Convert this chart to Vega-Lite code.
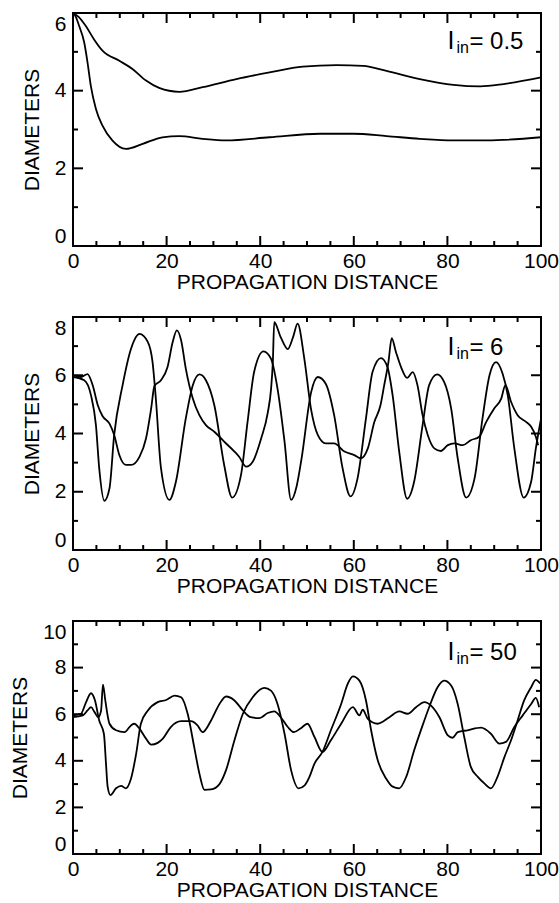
{
  "$schema": "https://vega.github.io/schema/vega-lite/v6.json",
  "background": "white",
  "padding": {"left": 8, "top": 8, "right": 0, "bottom": 0},
  "config": {
    "font": "Liberation Sans",
    "view": {"stroke": "black", "strokeWidth": 2},
    "axis": {"labelFont": "Liberation Sans", "labelFontSize": 21, "labelColor": "black", "titleFont": "Liberation Sans", "titleFontSize": 21, "titleFontWeight": "normal", "titleColor": "black", "domain": false, "grid": false, "ticks": false, "tickSize": 0, "labelOverlap": false}
  },
  "datasets": {
    "xt": [{"t":0,"m":true},{"t":5,"m":false},{"t":10,"m":false},{"t":15,"m":false},{"t":20,"m":true},{"t":25,"m":false},{"t":30,"m":false},{"t":35,"m":false},{"t":40,"m":true},{"t":45,"m":false},{"t":50,"m":false},{"t":55,"m":false},{"t":60,"m":true},{"t":65,"m":false},{"t":70,"m":false},{"t":75,"m":false},{"t":80,"m":true},{"t":85,"m":false},{"t":90,"m":false},{"t":95,"m":false},{"t":100,"m":true}],
    "y6": [{"t":0,"m":true},{"t":1,"m":false},{"t":2,"m":true},{"t":3,"m":false},{"t":4,"m":true},{"t":5,"m":false},{"t":6,"m":true}],
    "y8": [{"t":0,"m":true},{"t":1,"m":false},{"t":2,"m":true},{"t":3,"m":false},{"t":4,"m":true},{"t":5,"m":false},{"t":6,"m":true},{"t":7,"m":false},{"t":8,"m":true}],
    "y10": [{"t":0,"m":true},{"t":1,"m":false},{"t":2,"m":true},{"t":3,"m":false},{"t":4,"m":true},{"t":5,"m":false},{"t":6,"m":true},{"t":7,"m":false},{"t":8,"m":true},{"t":9,"m":false},{"t":10,"m":true}],
    "p1": [
      {"x":0,"d":6.0,"s":"u"},{"x":1.2,"d":5.9,"s":"u"},{"x":2.7,"d":5.67,"s":"u"},{"x":4.5,"d":5.32,"s":"u"},{"x":6.3,"d":5.03,"s":"u"},{"x":9.9,"d":4.77,"s":"u"},{"x":12.7,"d":4.56,"s":"u"},{"x":15.6,"d":4.26,"s":"u"},{"x":18.4,"d":4.07,"s":"u"},{"x":22.7,"d":3.97,"s":"u"},{"x":27.7,"d":4.09,"s":"u"},{"x":34.9,"d":4.3,"s":"u"},{"x":42,"d":4.47,"s":"u"},{"x":49.1,"d":4.62,"s":"u"},{"x":56.3,"d":4.66,"s":"u"},{"x":62,"d":4.64,"s":"u"},{"x":67,"d":4.51,"s":"u"},{"x":74.1,"d":4.3,"s":"u"},{"x":81.3,"d":4.15,"s":"u"},{"x":87,"d":4.11,"s":"u"},{"x":92,"d":4.17,"s":"u"},{"x":100,"d":4.34,"s":"u"},
      {"x":0,"d":6.0,"s":"l"},{"x":0.6,"d":5.9,"s":"l"},{"x":1.3,"d":5.67,"s":"l"},{"x":2.4,"d":5.24,"s":"l"},{"x":3.1,"d":4.73,"s":"l"},{"x":3.8,"d":4.13,"s":"l"},{"x":4.9,"d":3.53,"s":"l"},{"x":6.3,"d":3.1,"s":"l"},{"x":8.4,"d":2.72,"s":"l"},{"x":11.3,"d":2.5,"s":"l"},{"x":14.9,"d":2.63,"s":"l"},{"x":19.1,"d":2.8,"s":"l"},{"x":22.7,"d":2.83,"s":"l"},{"x":27.7,"d":2.76,"s":"l"},{"x":32.7,"d":2.72,"s":"l"},{"x":42,"d":2.8,"s":"l"},{"x":52.7,"d":2.89,"s":"l"},{"x":59.9,"d":2.89,"s":"l"},{"x":67,"d":2.83,"s":"l"},{"x":74.1,"d":2.76,"s":"l"},{"x":81.3,"d":2.72,"s":"l"},{"x":88.4,"d":2.72,"s":"l"},{"x":100,"d":2.8,"s":"l"}
    ],
    "p2": [
      {"x":0,"d":5.94,"s":"a"},{"x":2.4,"d":5.83,"s":"a"},{"x":3.85,"d":5.31,"s":"a"},{"x":4.9,"d":4.29,"s":"a"},{"x":5.6,"d":2.81,"s":"a"},{"x":6.7,"d":1.69,"s":"a"},{"x":7.8,"d":2.12,"s":"a"},{"x":8.8,"d":3.95,"s":"a"},{"x":10.6,"d":5.66,"s":"a"},{"x":12.4,"d":6.91,"s":"a"},{"x":14.2,"d":7.42,"s":"a"},{"x":16,"d":7.14,"s":"a"},{"x":17,"d":6.45,"s":"a"},{"x":17.7,"d":5.2,"s":"a"},{"x":18.8,"d":2.81,"s":"a"},{"x":20.6,"d":1.72,"s":"a"},{"x":22,"d":2.35,"s":"a"},{"x":24.1,"d":4.52,"s":"a"},{"x":25.6,"d":5.66,"s":"a"},{"x":27,"d":6.03,"s":"a"},{"x":28.4,"d":5.83,"s":"a"},{"x":30.2,"d":4.97,"s":"a"},{"x":32.3,"d":2.92,"s":"a"},{"x":34,"d":1.8,"s":"a"},{"x":35.9,"d":2.58,"s":"a"},{"x":37.3,"d":4.4,"s":"a"},{"x":38.7,"d":6.11,"s":"a"},{"x":40.7,"d":6.82,"s":"a"},{"x":42.3,"d":6.57,"s":"a"},{"x":43.7,"d":5.54,"s":"a"},{"x":45.2,"d":3.72,"s":"a"},{"x":46.6,"d":1.72,"s":"a"},{"x":47.8,"d":2.2,"s":"a"},{"x":48.8,"d":3.1,"s":"a"},{"x":50.9,"d":5.43,"s":"a"},{"x":52.3,"d":5.94,"s":"a"},{"x":54,"d":5.71,"s":"a"},{"x":55.8,"d":4.63,"s":"a"},{"x":57.6,"d":2.81,"s":"a"},{"x":59.3,"d":1.84,"s":"a"},{"x":60.8,"d":2.46,"s":"a"},{"x":62.6,"d":4.52,"s":"a"},{"x":64,"d":6.11,"s":"a"},{"x":65.8,"d":6.59,"s":"a"},{"x":67.2,"d":6.28,"s":"a"},{"x":68.3,"d":5.31,"s":"a"},{"x":69.7,"d":3.38,"s":"a"},{"x":71.4,"d":1.76,"s":"a"},{"x":72.9,"d":2.35,"s":"a"},{"x":74.7,"d":4.29,"s":"a"},{"x":76.1,"d":5.66,"s":"a"},{"x":77.8,"d":6.03,"s":"a"},{"x":79.3,"d":5.77,"s":"a"},{"x":80.8,"d":4.86,"s":"a"},{"x":82.2,"d":3.15,"s":"a"},{"x":84,"d":1.8,"s":"a"},{"x":85.8,"d":2.46,"s":"a"},{"x":87.5,"d":4.52,"s":"a"},{"x":89,"d":6.0,"s":"a"},{"x":90.4,"d":6.45,"s":"a"},{"x":91.8,"d":6.05,"s":"a"},{"x":92.9,"d":5.31,"s":"a"},{"x":94.3,"d":3.49,"s":"a"},{"x":96.3,"d":1.8,"s":"a"},{"x":97.9,"d":2.35,"s":"a"},{"x":98.9,"d":3.49,"s":"a"},{"x":100,"d":4.5,"s":"a"},
      {"x":0,"d":6.0,"s":"b"},{"x":1.7,"d":5.94,"s":"b"},{"x":3.1,"d":6.04,"s":"b"},{"x":4.2,"d":5.66,"s":"b"},{"x":5.3,"d":4.97,"s":"b"},{"x":6.3,"d":4.6,"s":"b"},{"x":7.8,"d":4.34,"s":"b"},{"x":8.8,"d":3.95,"s":"b"},{"x":9.9,"d":3.26,"s":"b"},{"x":11.3,"d":2.92,"s":"b"},{"x":12.4,"d":2.92,"s":"b"},{"x":14.2,"d":3.2,"s":"b"},{"x":15.6,"d":3.83,"s":"b"},{"x":16.7,"d":4.86,"s":"b"},{"x":17.4,"d":5.63,"s":"b"},{"x":18.8,"d":5.83,"s":"b"},{"x":20.2,"d":6.28,"s":"b"},{"x":21.3,"d":7.14,"s":"b"},{"x":22.2,"d":7.54,"s":"b"},{"x":23.1,"d":7.2,"s":"b"},{"x":24.1,"d":6.23,"s":"b"},{"x":25.6,"d":5.2,"s":"b"},{"x":27,"d":4.63,"s":"b"},{"x":28.4,"d":4.29,"s":"b"},{"x":30.2,"d":4.06,"s":"b"},{"x":32.3,"d":3.72,"s":"b"},{"x":34.5,"d":3.38,"s":"b"},{"x":35.5,"d":3.2,"s":"b"},{"x":37,"d":2.86,"s":"b"},{"x":38.4,"d":3.03,"s":"b"},{"x":40.2,"d":3.83,"s":"b"},{"x":41.6,"d":4.7,"s":"b"},{"x":42.3,"d":5.5,"s":"b"},{"x":42.7,"d":6.45,"s":"b"},{"x":43,"d":7.82,"s":"b"},{"x":44.4,"d":7.3,"s":"b"},{"x":45.9,"d":6.9,"s":"b"},{"x":47,"d":7.3,"s":"b"},{"x":48,"d":7.77,"s":"b"},{"x":49.4,"d":6.6,"s":"b"},{"x":50.9,"d":4.8,"s":"b"},{"x":52.3,"d":3.95,"s":"b"},{"x":54,"d":3.66,"s":"b"},{"x":55.8,"d":3.66,"s":"b"},{"x":58,"d":3.38,"s":"b"},{"x":60.1,"d":3.26,"s":"b"},{"x":61.5,"d":3.15,"s":"b"},{"x":63,"d":3.49,"s":"b"},{"x":64.4,"d":4.4,"s":"b"},{"x":65.7,"d":4.97,"s":"b"},{"x":66.5,"d":5.66,"s":"b"},{"x":67.4,"d":6.45,"s":"b"},{"x":68.1,"d":7.27,"s":"b"},{"x":69,"d":6.8,"s":"b"},{"x":70.1,"d":6.28,"s":"b"},{"x":71.4,"d":5.91,"s":"b"},{"x":72.6,"d":6.11,"s":"b"},{"x":73.6,"d":5.66,"s":"b"},{"x":74.7,"d":4.63,"s":"b"},{"x":75.8,"d":3.95,"s":"b"},{"x":77.2,"d":3.49,"s":"b"},{"x":78.6,"d":3.4,"s":"b"},{"x":80.1,"d":3.6,"s":"b"},{"x":81.5,"d":3.66,"s":"b"},{"x":83.3,"d":3.6,"s":"b"},{"x":85,"d":3.77,"s":"b"},{"x":86.8,"d":3.89,"s":"b"},{"x":88.3,"d":4.4,"s":"b"},{"x":90,"d":4.86,"s":"b"},{"x":91.5,"d":5.2,"s":"b"},{"x":92.4,"d":5.66,"s":"b"},{"x":93.6,"d":5.09,"s":"b"},{"x":95,"d":4.63,"s":"b"},{"x":96.8,"d":4.4,"s":"b"},{"x":97.9,"d":4.23,"s":"b"},{"x":98.9,"d":3.89,"s":"b"},{"x":99.4,"d":3.6,"s":"b"}
    ],
    "p3": [
      {"x":0,"d":5.95,"s":"p"},{"x":1.7,"d":6.02,"s":"p"},{"x":2.8,"d":6.52,"s":"p"},{"x":3.85,"d":6.9,"s":"p"},{"x":4.7,"d":6.59,"s":"p"},{"x":5.6,"d":5.73,"s":"p"},{"x":6.6,"d":5.16,"s":"p"},{"x":7.05,"d":3.88,"s":"p"},{"x":7.4,"d":2.89,"s":"p"},{"x":8,"d":2.53,"s":"p"},{"x":9.2,"d":2.82,"s":"p"},{"x":10.3,"d":2.92,"s":"p"},{"x":11.3,"d":2.82,"s":"p"},{"x":12.4,"d":3.24,"s":"p"},{"x":13.5,"d":4.31,"s":"p"},{"x":14.5,"d":5.59,"s":"p"},{"x":16,"d":6.16,"s":"p"},{"x":18.1,"d":6.52,"s":"p"},{"x":19.9,"d":6.61,"s":"p"},{"x":21.7,"d":6.8,"s":"p"},{"x":23.1,"d":6.73,"s":"p"},{"x":24.5,"d":6.02,"s":"p"},{"x":25.9,"d":4.59,"s":"p"},{"x":27,"d":3.46,"s":"p"},{"x":28.1,"d":2.75,"s":"p"},{"x":29.5,"d":2.77,"s":"p"},{"x":31.3,"d":3.0,"s":"p"},{"x":32.7,"d":3.6,"s":"p"},{"x":34.5,"d":4.88,"s":"p"},{"x":36.3,"d":6.02,"s":"p"},{"x":38.4,"d":6.73,"s":"p"},{"x":40.9,"d":7.13,"s":"p"},{"x":42.3,"d":7.01,"s":"p"},{"x":43.7,"d":6.44,"s":"p"},{"x":45.2,"d":5.16,"s":"p"},{"x":46.6,"d":3.6,"s":"p"},{"x":48.2,"d":2.82,"s":"p"},{"x":49.5,"d":2.95,"s":"p"},{"x":50.5,"d":3.3,"s":"p"},{"x":51.6,"d":3.88,"s":"p"},{"x":53.3,"d":4.38,"s":"p"},{"x":55.1,"d":5.31,"s":"p"},{"x":57.3,"d":6.44,"s":"p"},{"x":58.7,"d":7.3,"s":"p"},{"x":59.8,"d":7.62,"s":"p"},{"x":61.2,"d":7.44,"s":"p"},{"x":62.6,"d":6.59,"s":"p"},{"x":63.7,"d":5.31,"s":"p"},{"x":65.1,"d":4.03,"s":"p"},{"x":66.9,"d":3.24,"s":"p"},{"x":68.3,"d":2.89,"s":"p"},{"x":69.7,"d":2.82,"s":"p"},{"x":71.2,"d":3.31,"s":"p"},{"x":72.9,"d":4.45,"s":"p"},{"x":74.7,"d":5.52,"s":"p"},{"x":76.1,"d":6.3,"s":"p"},{"x":77.9,"d":7.16,"s":"p"},{"x":79.3,"d":7.44,"s":"p"},{"x":80.8,"d":7.23,"s":"p"},{"x":82.2,"d":6.44,"s":"p"},{"x":83.6,"d":5.02,"s":"p"},{"x":85,"d":3.74,"s":"p"},{"x":86.5,"d":3.31,"s":"p"},{"x":87.9,"d":3.03,"s":"p"},{"x":89.3,"d":2.82,"s":"p"},{"x":90.7,"d":3.31,"s":"p"},{"x":92.2,"d":4.17,"s":"p"},{"x":93.6,"d":4.88,"s":"p"},{"x":95,"d":5.73,"s":"p"},{"x":96.4,"d":6.59,"s":"p"},{"x":97.9,"d":7.16,"s":"p"},{"x":98.9,"d":7.47,"s":"p"},{"x":99.6,"d":7.37,"s":"p"},{"x":100,"d":7.3,"s":"p"},
      {"x":0,"d":5.87,"s":"q"},{"x":2.1,"d":5.95,"s":"q"},{"x":3.1,"d":6.16,"s":"q"},{"x":3.85,"d":6.3,"s":"q"},{"x":4.6,"d":6.09,"s":"q"},{"x":5.4,"d":5.87,"s":"q"},{"x":6,"d":6.16,"s":"q"},{"x":6.4,"d":7.27,"s":"q"},{"x":6.9,"d":6.59,"s":"q"},{"x":7.8,"d":5.59,"s":"q"},{"x":9.2,"d":5.31,"s":"q"},{"x":11,"d":5.23,"s":"q"},{"x":12.4,"d":5.52,"s":"q"},{"x":13.1,"d":5.59,"s":"q"},{"x":14.2,"d":5.38,"s":"q"},{"x":15.6,"d":4.95,"s":"q"},{"x":16.7,"d":4.69,"s":"q"},{"x":18.1,"d":4.77,"s":"q"},{"x":19.2,"d":4.95,"s":"q"},{"x":20.9,"d":5.45,"s":"q"},{"x":23.1,"d":5.7,"s":"q"},{"x":25.2,"d":5.7,"s":"q"},{"x":26.6,"d":5.52,"s":"q"},{"x":27.7,"d":5.23,"s":"q"},{"x":29.5,"d":5.73,"s":"q"},{"x":31.3,"d":6.44,"s":"q"},{"x":32.7,"d":6.76,"s":"q"},{"x":34.5,"d":6.59,"s":"q"},{"x":36.3,"d":6.16,"s":"q"},{"x":38,"d":5.87,"s":"q"},{"x":39.8,"d":5.83,"s":"q"},{"x":41.6,"d":6.05,"s":"q"},{"x":43,"d":6.12,"s":"q"},{"x":44.4,"d":5.87,"s":"q"},{"x":45.9,"d":5.45,"s":"q"},{"x":47.2,"d":5.23,"s":"q"},{"x":48.7,"d":5.4,"s":"q"},{"x":50.1,"d":5.59,"s":"q"},{"x":51.6,"d":5.02,"s":"q"},{"x":53.3,"d":4.38,"s":"q"},{"x":55.1,"d":4.88,"s":"q"},{"x":57.3,"d":5.59,"s":"q"},{"x":59.8,"d":6.3,"s":"q"},{"x":61.2,"d":5.95,"s":"q"},{"x":61.9,"d":6.19,"s":"q"},{"x":63,"d":5.8,"s":"q"},{"x":65.1,"d":5.59,"s":"q"},{"x":67.6,"d":5.87,"s":"q"},{"x":69.7,"d":6.12,"s":"q"},{"x":71.5,"d":6.02,"s":"q"},{"x":73.3,"d":6.3,"s":"q"},{"x":75.1,"d":6.52,"s":"q"},{"x":76.5,"d":6.37,"s":"q"},{"x":78.3,"d":5.87,"s":"q"},{"x":80.1,"d":5.09,"s":"q"},{"x":81.1,"d":4.99,"s":"q"},{"x":82.2,"d":5.23,"s":"q"},{"x":84.3,"d":5.31,"s":"q"},{"x":87.2,"d":5.42,"s":"q"},{"x":89.3,"d":5.16,"s":"q"},{"x":91.1,"d":4.74,"s":"q"},{"x":92.5,"d":4.81,"s":"q"},{"x":94.3,"d":5.45,"s":"q"},{"x":96.1,"d":5.95,"s":"q"},{"x":97.9,"d":6.44,"s":"q"},{"x":98.9,"d":6.7,"s":"q"},{"x":99.6,"d":6.3,"s":"q"}
    ]
  },
  "vconcat": [
    {
      "width": 468, "height": 233,
      "layer": [
        {"data": {"name": "p1"}, "mark": {"type": "line", "color": "black", "strokeWidth": 1.8, "interpolate": "monotone"},
         "encoding": {
           "x": {"field": "x", "type": "quantitative", "scale": {"domain": [0, 100], "nice": false, "zero": false},
                 "axis": {"orient": "bottom", "values": [0, 20, 40, 60, 80, 100], "labelPadding": 4, "labelFlush": false, "title": "PROPAGATION DISTANCE", "titlePadding": 0}},
           "y": {"field": "d", "type": "quantitative", "scale": {"domain": [0, 6], "nice": false},
                 "axis": {"orient": "left", "values": [0, 2, 4, 6], "labelPadding": 7, "labelFlush": true, "title": "DIAMETERS", "titlePadding": 12}},
           "detail": {"field": "s"}
         }},
        {"data": {"name": "xt"}, "mark": {"type": "rule", "color": "black", "strokeWidth": 2},
         "encoding": {"x": {"field": "t", "type": "quantitative"}, "y": {"datum": 0, "type": "quantitative"}, "y2": {"datum": 0.2575},
                      "strokeDash": {"condition": {"test": "datum.m", "value": [20, 0]}, "value": [5, 30]}}},
        {"data": {"name": "xt"}, "mark": {"type": "rule", "color": "black", "strokeWidth": 2},
         "encoding": {"x": {"field": "t", "type": "quantitative"}, "y": {"datum": 6, "type": "quantitative"}, "y2": {"datum": 5.7425},
                      "strokeDash": {"condition": {"test": "datum.m", "value": [20, 0]}, "value": [5, 30]}}},
        {"data": {"name": "y6"}, "mark": {"type": "rule", "color": "black", "strokeWidth": 2},
         "encoding": {"y": {"field": "t", "type": "quantitative"}, "x": {"datum": 0, "type": "quantitative"}, "x2": {"datum": 2.137},
                      "strokeDash": {"condition": {"test": "datum.m", "value": [20, 0]}, "value": [5, 30]}}},
        {"data": {"name": "y6"}, "mark": {"type": "rule", "color": "black", "strokeWidth": 2},
         "encoding": {"y": {"field": "t", "type": "quantitative"}, "x": {"datum": 100, "type": "quantitative"}, "x2": {"datum": 97.863},
                      "strokeDash": {"condition": {"test": "datum.m", "value": [20, 0]}, "value": [5, 30]}}},
        {"data": {"values": [{}]}, "mark": {"type": "text", "text": "I", "align": "left", "baseline": "alphabetic", "fontSize": 25, "color": "black"},
         "encoding": {"x": {"datum": 80, "type": "quantitative"}, "y": {"datum": 5.08, "type": "quantitative"}}},
        {"data": {"values": [{}]}, "mark": {"type": "text", "text": "in", "align": "left", "baseline": "alphabetic", "fontSize": 16, "dx": 9, "dy": 4, "color": "black"},
         "encoding": {"x": {"datum": 80, "type": "quantitative"}, "y": {"datum": 5.08, "type": "quantitative"}}},
        {"data": {"values": [{}]}, "mark": {"type": "text", "text": "= 0.5", "align": "left", "baseline": "alphabetic", "fontSize": 24, "dx": 22, "color": "black"},
         "encoding": {"x": {"datum": 80, "type": "quantitative"}, "y": {"datum": 5.08, "type": "quantitative"}}}
      ]
    },
    {
      "width": 468, "height": 233,
      "layer": [
        {"data": {"name": "p2"}, "mark": {"type": "line", "color": "black", "strokeWidth": 1.8, "interpolate": "monotone"},
         "encoding": {
           "x": {"field": "x", "type": "quantitative", "scale": {"domain": [0, 100], "nice": false, "zero": false},
                 "axis": {"orient": "bottom", "values": [0, 20, 40, 60, 80, 100], "labelPadding": 4, "labelFlush": false, "title": "PROPAGATION DISTANCE", "titlePadding": 0}},
           "y": {"field": "d", "type": "quantitative", "scale": {"domain": [0, 8], "nice": false},
                 "axis": {"orient": "left", "values": [0, 2, 4, 6, 8], "labelPadding": 7, "labelFlush": true, "title": "DIAMETERS", "titlePadding": 12}},
           "detail": {"field": "s"}
         }},
        {"data": {"name": "xt"}, "mark": {"type": "rule", "color": "black", "strokeWidth": 2},
         "encoding": {"x": {"field": "t", "type": "quantitative"}, "y": {"datum": 0, "type": "quantitative"}, "y2": {"datum": 0.3433},
                      "strokeDash": {"condition": {"test": "datum.m", "value": [20, 0]}, "value": [5, 30]}}},
        {"data": {"name": "xt"}, "mark": {"type": "rule", "color": "black", "strokeWidth": 2},
         "encoding": {"x": {"field": "t", "type": "quantitative"}, "y": {"datum": 8, "type": "quantitative"}, "y2": {"datum": 7.6567},
                      "strokeDash": {"condition": {"test": "datum.m", "value": [20, 0]}, "value": [5, 30]}}},
        {"data": {"name": "y8"}, "mark": {"type": "rule", "color": "black", "strokeWidth": 2},
         "encoding": {"y": {"field": "t", "type": "quantitative"}, "x": {"datum": 0, "type": "quantitative"}, "x2": {"datum": 2.137},
                      "strokeDash": {"condition": {"test": "datum.m", "value": [20, 0]}, "value": [5, 30]}}},
        {"data": {"name": "y8"}, "mark": {"type": "rule", "color": "black", "strokeWidth": 2},
         "encoding": {"y": {"field": "t", "type": "quantitative"}, "x": {"datum": 100, "type": "quantitative"}, "x2": {"datum": 97.863},
                      "strokeDash": {"condition": {"test": "datum.m", "value": [20, 0]}, "value": [5, 30]}}},
        {"data": {"values": [{}]}, "mark": {"type": "text", "text": "I", "align": "left", "baseline": "alphabetic", "fontSize": 25, "color": "black"},
         "encoding": {"x": {"datum": 80, "type": "quantitative"}, "y": {"datum": 6.68, "type": "quantitative"}}},
        {"data": {"values": [{}]}, "mark": {"type": "text", "text": "in", "align": "left", "baseline": "alphabetic", "fontSize": 16, "dx": 9, "dy": 4, "color": "black"},
         "encoding": {"x": {"datum": 80, "type": "quantitative"}, "y": {"datum": 6.68, "type": "quantitative"}}},
        {"data": {"values": [{}]}, "mark": {"type": "text", "text": "= 6", "align": "left", "baseline": "alphabetic", "fontSize": 24, "dx": 22, "color": "black"},
         "encoding": {"x": {"datum": 80, "type": "quantitative"}, "y": {"datum": 6.68, "type": "quantitative"}}}
      ]
    },
    {
      "width": 468, "height": 233,
      "layer": [
        {"data": {"name": "p3"}, "mark": {"type": "line", "color": "black", "strokeWidth": 1.8, "interpolate": "monotone"},
         "encoding": {
           "x": {"field": "x", "type": "quantitative", "scale": {"domain": [0, 100], "nice": false, "zero": false},
                 "axis": {"orient": "bottom", "values": [0, 20, 40, 60, 80, 100], "labelPadding": 4, "labelFlush": false, "title": "PROPAGATION DISTANCE", "titlePadding": 0}},
           "y": {"field": "d", "type": "quantitative", "scale": {"domain": [0, 10], "nice": false},
                 "axis": {"orient": "left", "values": [0, 2, 4, 6, 8, 10], "labelPadding": 7, "labelFlush": true, "title": "DIAMETERS", "titlePadding": 12}},
           "detail": {"field": "s"}
         }},
        {"data": {"name": "xt"}, "mark": {"type": "rule", "color": "black", "strokeWidth": 2},
         "encoding": {"x": {"field": "t", "type": "quantitative"}, "y": {"datum": 0, "type": "quantitative"}, "y2": {"datum": 0.4292},
                      "strokeDash": {"condition": {"test": "datum.m", "value": [20, 0]}, "value": [5, 30]}}},
        {"data": {"name": "xt"}, "mark": {"type": "rule", "color": "black", "strokeWidth": 2},
         "encoding": {"x": {"field": "t", "type": "quantitative"}, "y": {"datum": 10, "type": "quantitative"}, "y2": {"datum": 9.5708},
                      "strokeDash": {"condition": {"test": "datum.m", "value": [20, 0]}, "value": [5, 30]}}},
        {"data": {"name": "y10"}, "mark": {"type": "rule", "color": "black", "strokeWidth": 2},
         "encoding": {"y": {"field": "t", "type": "quantitative"}, "x": {"datum": 0, "type": "quantitative"}, "x2": {"datum": 2.137},
                      "strokeDash": {"condition": {"test": "datum.m", "value": [20, 0]}, "value": [5, 30]}}},
        {"data": {"name": "y10"}, "mark": {"type": "rule", "color": "black", "strokeWidth": 2},
         "encoding": {"y": {"field": "t", "type": "quantitative"}, "x": {"datum": 100, "type": "quantitative"}, "x2": {"datum": 97.863},
                      "strokeDash": {"condition": {"test": "datum.m", "value": [20, 0]}, "value": [5, 30]}}},
        {"data": {"values": [{}]}, "mark": {"type": "text", "text": "I", "align": "left", "baseline": "alphabetic", "fontSize": 25, "color": "black"},
         "encoding": {"x": {"datum": 80, "type": "quantitative"}, "y": {"datum": 8.33, "type": "quantitative"}}},
        {"data": {"values": [{}]}, "mark": {"type": "text", "text": "in", "align": "left", "baseline": "alphabetic", "fontSize": 16, "dx": 9, "dy": 4, "color": "black"},
         "encoding": {"x": {"datum": 80, "type": "quantitative"}, "y": {"datum": 8.33, "type": "quantitative"}}},
        {"data": {"values": [{}]}, "mark": {"type": "text", "text": "= 50", "align": "left", "baseline": "alphabetic", "fontSize": 24, "dx": 22, "color": "black"},
         "encoding": {"x": {"datum": 80, "type": "quantitative"}, "y": {"datum": 8.33, "type": "quantitative"}}}
      ]
    }
  ],
  "spacing": 71,
  "bounds": "flush"
}
